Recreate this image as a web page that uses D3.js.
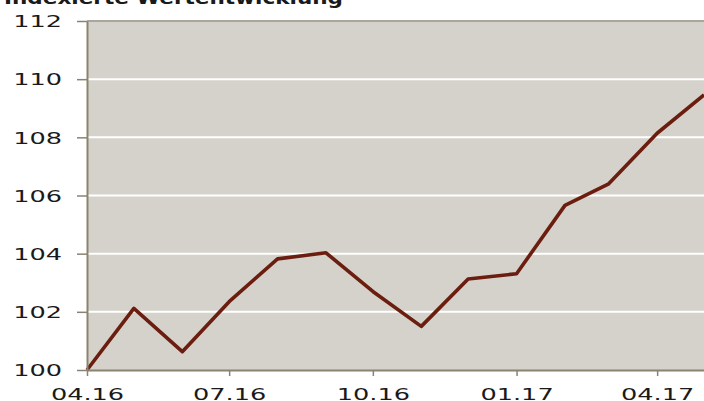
<!DOCTYPE html>
<html>
<head>
<meta charset="utf-8">
<script src="https://cdn.jsdelivr.net/npm/d3@7"></script>
<style>
  html, body { margin: 0; padding: 0; background: #ffffff; }
  svg { display: block; }
  text { font-family: "DejaVu Sans", Verdana, sans-serif; fill: #1a1a1a; }
</style>
</head>
<body>
<svg id="chart" width="704" height="401"></svg>
<script>
// Monthly index values (start = 100)
const months = ["2016-04", "2016-05", "2016-06", "2016-07", "2016-08", "2016-09", "2016-10",
                "2016-11", "2016-12", "2017-01", "2017-02", "2017-03", "2017-04", "2017-05"];
const indexValues = [100, 102.12, 100.63, 102.35, 103.82, 104.03, 102.7,
                     101.5, 103.13, 103.31, 105.66, 106.4, 108.14, 109.46];
const yTicks = [100, 102, 104, 106, 108, 110, 112];
const xTickDates = ["2016-04", "2016-07", "2016-10", "2017-01", "2017-04"];
const title = "Indexierte Wertentwicklung";

const parse = d3.timeParse("%Y-%m");
const data = months.map((m, i) => ({ date: parse(m), value: indexValues[i] }));

const svg = d3.select("#chart");
const W = 704, H = 401;
const margin = { left: 87, top: 21, right: 0, bottom: 31 };
const stretch = 1.6;   // horizontal text stretch

const x = d3.scaleTime()
  .domain([parse("2016-04"), parse("2017-05")])
  .range([margin.left, W - margin.right]);
const y = d3.scaleLinear()
  .domain([100, 112])
  .range([H - margin.bottom, margin.top]);

// plot background
svg.append("rect")
  .attr("x", margin.left).attr("y", margin.top)
  .attr("width", W - margin.left - margin.right)
  .attr("height", y(100) - y(112))
  .attr("fill", "#d5d2cb");

// horizontal grid
svg.append("g")
  .selectAll("line")
  .data(yTicks.filter(v => v > 100))
  .join("line")
  .attr("x1", margin.left).attr("x2", W)
  .attr("y1", d => y(d)).attr("y2", d => y(d))
  .attr("stroke", d => d === 112 ? "#aaa69d" : "#ffffff")
  .attr("stroke-width", 2);

// title
svg.append("text")
  .attr("x", 4).attr("y", 4)
  .attr("font-weight", "bold")
  .attr("font-size", 17)
  .attr("textLength", 339)
  .attr("lengthAdjust", "spacingAndGlyphs")
  .text(title);

// line
const line = d3.line().x(d => x(d.date)).y(d => y(d.value));
svg.append("path")
  .datum(data)
  .attr("d", line)
  .attr("fill", "none")
  .attr("stroke", "#6b1e0f")
  .attr("stroke-width", 3.6)
  .attr("stroke-linejoin", "round");

const axisColor = "#8a8370";

// y axis
const yAxis = svg.append("g")
  .attr("transform", `translate(${margin.left},0)`)
  .call(d3.axisLeft(y).tickValues(yTicks).tickSize(10).tickSizeOuter(0).tickPadding(0));
yAxis.select(".domain").attr("stroke", axisColor).attr("stroke-width", 2);
yAxis.selectAll(".tick line").attr("stroke", axisColor).attr("stroke-width", 1.5);
yAxis.selectAll(".tick text")
  .attr("x", null)
  .attr("dy", "0.36em")
  .attr("font-size", 16)
  .attr("fill", "#1a1a1a")
  .attr("text-anchor", "end")
  .attr("transform", `translate(-25,0) scale(${stretch},1)`);

// x axis
const xAxis = svg.append("g")
  .attr("transform", `translate(0,${y(100)})`)
  .call(d3.axisBottom(x)
    .tickValues(xTickDates.map(parse))
    .tickFormat(d3.timeFormat("%m.%y"))
    .tickSize(6).tickSizeOuter(0).tickPadding(0));
xAxis.select(".domain").attr("stroke", axisColor).attr("stroke-width", 2);
xAxis.selectAll(".tick line").attr("stroke", axisColor).attr("stroke-width", 1.5);
xAxis.selectAll(".tick text")
  .attr("y", null)
  .attr("dy", null)
  .attr("font-size", 16)
  .attr("fill", "#1a1a1a")
  .attr("transform", `translate(0,29.5) scale(${stretch},1)`);
</script>
</body>
</html>
